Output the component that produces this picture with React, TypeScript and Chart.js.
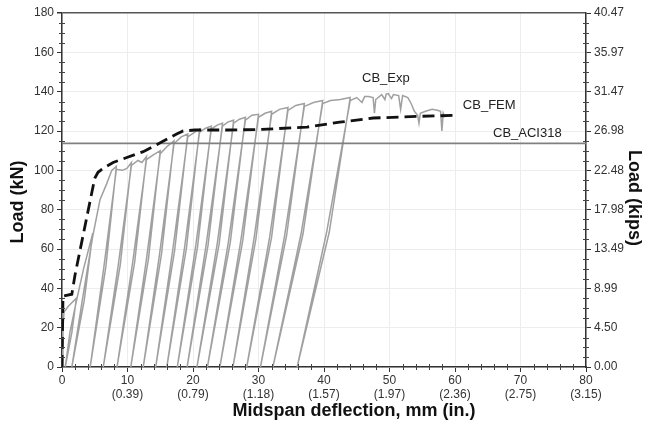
import React, { useEffect, useRef } from "react";
import { Chart, registerables } from "chart.js";

Chart.register(...registerables);

// Experimental backbone (envelope) points: deflection (mm), load (kN)
const envDefl = [0, 0.15, 0.3, 1.0, 2.2, 3.3, 4.7, 5.8, 6.8, 7.6, 8.3, 9.2, 9.9, 10.6, 11.6, 12.2, 12.9, 14.0, 15.0, 16.0, 17.1, 18.2, 19.2, 20.1, 21.0, 22.0, 22.8, 23.7, 24.5, 25.3, 26.2, 27.1, 28.0, 29.0, 30.0, 31.0, 32.0, 33.2, 34.5, 35.7, 37.0, 38.4, 39.8, 41.0, 42.5, 44.0, 45.0, 45.8, 46.2, 46.8, 47.5, 47.7, 47.9, 48.8, 49.3, 49.5, 49.8, 50.3, 50.6, 51.4, 51.7, 52.0, 52.8, 53.3, 53.8, 54.3, 54.5, 54.7, 55.5, 56.5, 57.3, 57.8, 58.0, 58.2, 58.4];
const envLoad = [0, 20, 28, 31, 35, 50, 68, 85, 93, 100, 102, 100, 101, 104, 105, 104, 107, 108, 110, 112, 115, 117, 118.5, 119, 121, 121.5, 122.5, 123, 124, 124.5, 125.5, 126, 127, 128, 128.5, 129, 130, 131, 132, 133, 134, 134.5, 135.5, 135.5, 136, 137, 137, 134.5, 137.5, 137.5, 137, 129, 136, 138.5, 136, 138.8, 139, 136.5, 138.5, 138, 131, 138, 137, 134, 130, 128, 124, 129, 130, 131, 130.5, 130, 120, 129, 127];

// Unloading / reloading cycles
const cyclePeakDefl = [2.2, 4.7, 8.3, 10.6, 12.9, 15.0, 17.1, 19.2, 21.0, 22.8, 24.5, 26.2, 28.0, 30.0, 32.0, 34.5, 37.0, 39.8, 44.0];
const cycleBaseDefl = [0.5, 1.5, 4.3, 6.3, 8.4, 10.5, 12.4, 14.3, 16.0, 17.6, 19.1, 20.6, 22.2, 24.1, 26.1, 28.2, 30.3, 32.2, 35.9];
const unloadMidDefl = [1.5, 3.4, 6.7, 8.9, 11.1, 13.2, 15.2, 17.2, 19.0, 20.7, 22.3, 24.0, 25.7, 27.6, 29.6, 32.0, 34.3, 36.8, 40.8];
const reloadMidDefl = [1.2, 3.1, 6.4, 8.6, 10.8, 12.9, 14.9, 16.9, 18.7, 20.4, 22.0, 23.7, 25.4, 27.3, 29.3, 31.7, 34.0, 36.5, 40.4];

// FEM prediction
const femDefl = [0, 0.15, 1.5, 2.0, 5.0, 5.5, 6.3, 7.8, 9.9, 12.4, 15.0, 17.5, 18.5, 20.3, 25.3, 30.5, 37.4, 42.4, 47.5, 55.0, 60.3];
const femLoad = [0, 36, 37, 47, 96, 99, 101, 104, 106.5, 109.5, 114, 118.5, 120, 120.5, 120.5, 120.8, 122, 124.5, 126.6, 127.5, 128];

// ACI318 nominal capacity
const aciDefl = [0, 80];
const aciLoad = [113.7, 113.7];

// Tick labels
const inchLabels = ["", "(0.39)", "(0.79)", "(1.18)", "(1.57)", "(1.97)", "(2.36)", "(2.75)", "(3.15)"];
const kipsLabels = ["0.00", "4.50", "8.99", "13.49", "17.98", "22.48", "26.98", "31.47", "35.97", "40.47"];

const FONT = "'Liberation Sans', Arial, Helvetica, sans-serif";

function buildExp() {
  const pts: { x: number; y: number }[] = [];
  let c = 0;
  for (let k = 0; k < envDefl.length; k++) {
    pts.push({ x: envDefl[k], y: envLoad[k] });
    if (c < cyclePeakDefl.length && envDefl[k] === cyclePeakDefl[c]) {
      const P = envLoad[k];
      pts.push({ x: unloadMidDefl[c], y: P / 2 });
      pts.push({ x: cycleBaseDefl[c], y: 0 });
      pts.push({ x: reloadMidDefl[c], y: P / 2 });
      pts.push({ x: envDefl[k], y: P - 1.5 });
      c++;
    }
  }
  return pts;
}

const minorTicks = {
  id: "minorTicks",
  afterDraw(chart: any) {
    const { ctx, scales, chartArea } = chart;
    ctx.save();
    ctx.strokeStyle = "#444";
    ctx.lineWidth = 1;
    const x = scales.x;
    const y = scales.y;
    for (let v = 2; v < 80; v += 2) {
      if (v % 10 === 0) continue;
      const px = Math.round(x.getPixelForValue(v)) + 0.5;
      ctx.beginPath();
      ctx.moveTo(px, chartArea.bottom - 3);
      ctx.lineTo(px, chartArea.bottom + 3);
      ctx.stroke();
    }
    for (let v = 5; v < 180; v += 5) {
      if (v % 20 === 0) continue;
      const py = Math.round(y.getPixelForValue(v)) + 0.5;
      ctx.beginPath();
      ctx.moveTo(chartArea.left - 3, py);
      ctx.lineTo(chartArea.left + 3, py);
      ctx.moveTo(chartArea.right - 3, py);
      ctx.lineTo(chartArea.right + 3, py);
      ctx.stroke();
    }
    ctx.restore();
  },
};

const textLayer = {
  id: "textLayer",
  afterDatasetsDraw(chart: any) {
    const { ctx, scales, chartArea } = chart;
    const x = scales.x;
    const y = scales.y;
    ctx.save();
    ctx.font = `13px ${FONT}`;
    ctx.fillStyle = "#222";
    ctx.textBaseline = "middle";
    ctx.textAlign = "left";
    ctx.fillText("CB_Exp", x.getPixelForValue(45.8), y.getPixelForValue(146.9));
    ctx.fillText("CB_FEM", x.getPixelForValue(61.2), y.getPixelForValue(133.2));
    ctx.fillText("CB_ACI318", x.getPixelForValue(65.8), y.getPixelForValue(119));

    // axis titles
    ctx.fillStyle = "#111";
    ctx.font = `bold 18px ${FONT}`;
    ctx.textAlign = "center";
    ctx.fillText("Midspan deflection, mm (in.)", chartArea.left + 292, chartArea.bottom + 44);
    const midY = (chartArea.top + chartArea.bottom) / 2;
    ctx.save();
    ctx.translate(18, midY + 12);
    ctx.rotate(-Math.PI / 2);
    ctx.fillText("Load (kN)", 0, 0);
    ctx.restore();
    ctx.save();
    ctx.translate(chartArea.right + 48, midY + 8);
    ctx.rotate(Math.PI / 2);
    ctx.fillText("Load (kips)", 0, 0);
    ctx.restore();
    ctx.restore();
  },
};

export default function App() {
  const ref = useRef<HTMLCanvasElement | null>(null);

  useEffect(() => {
    if (!ref.current) return;
    const exp = buildExp();
    const fem = femDefl.map((d, i) => ({ x: d, y: femLoad[i] }));
    const aci = aciDefl.map((d, i) => ({ x: d, y: aciLoad[i] }));

    const chart = new Chart(ref.current, {
      type: "scatter",
      data: {
        datasets: [
          {
            label: "CB_FEM",
            data: fem,
            showLine: true,
            borderColor: "#111",
            borderWidth: 2.8,
            borderDash: [12, 6],
            pointRadius: 0,
            fill: false,
          },
          {
            label: "CB_ACI318",
            data: aci,
            showLine: true,
            borderColor: "#808080",
            borderWidth: 1.6,
            pointRadius: 0,
            fill: false,
          },
          {
            label: "CB_Exp",
            data: exp,
            showLine: true,
            borderColor: "#a0a0a0",
            borderWidth: 1.5,
            pointRadius: 0,
            fill: false,
          },
        ],
      },
      options: {
        animation: false,
        responsive: false,
        maintainAspectRatio: false,
        layout: { padding: { top: 13, left: 0, right: 0, bottom: 0 } },
        plugins: {
          legend: { display: false },
          tooltip: { enabled: false },
        },
        scales: {
          x: {
            type: "linear",
            min: 0,
            max: 80,
            ticks: {
              stepSize: 10,
              color: "#333",
              padding: 2,
              maxRotation: 0,
              font: { family: FONT, size: 12, lineHeight: 1.15 },
              callback: (v: any) => {
                const i = Math.round(Number(v) / 10);
                return i === 0 ? "0" : [String(v), inchLabels[i]];
              },
            },
            grid: {
              color: "#ededed",
              tickLength: 5,
              tickColor: "#333",
            },
            border: { color: "#333", width: 1.5 },
            afterFit: (s: any) => {
              s.height = 58;
            },
          },
          y: {
            type: "linear",
            position: "left",
            min: 0,
            max: 180,
            ticks: {
              stepSize: 20,
              color: "#333",
              padding: 3,
              font: { family: FONT, size: 12 },
            },
            grid: {
              color: (c: any) => (c.tick && c.tick.value === 180 ? "#555" : "#ededed"),
              lineWidth: (c: any) => (c.tick && c.tick.value === 180 ? 1.5 : 1),
              tickLength: 5,
              tickColor: "#333",
            },
            border: { color: "#333", width: 1.5 },
            afterFit: (s: any) => {
              s.width = 62;
            },
          },
          y2: {
            type: "linear",
            position: "right",
            min: 0,
            max: 180,
            ticks: {
              stepSize: 20,
              color: "#333",
              padding: 3,
              font: { family: FONT, size: 12 },
              callback: (v: any) => kipsLabels[Math.round(Number(v) / 20)],
            },
            grid: { drawOnChartArea: false, tickLength: 5, tickColor: "#333" },
            border: { color: "#333", width: 1.5 },
            afterFit: (s: any) => {
              s.width = 63;
            },
          },
        },
      },
      plugins: [minorTicks, textLayer],
    });
    return () => chart.destroy();
  }, []);

  return (
    <div style={{ position: "fixed", left: 0, top: 0, width: 649, height: 425, background: "#fff" }}>
      <canvas ref={ref} width={649} height={425} style={{ width: 649, height: 425 }} />
    </div>
  );
}
